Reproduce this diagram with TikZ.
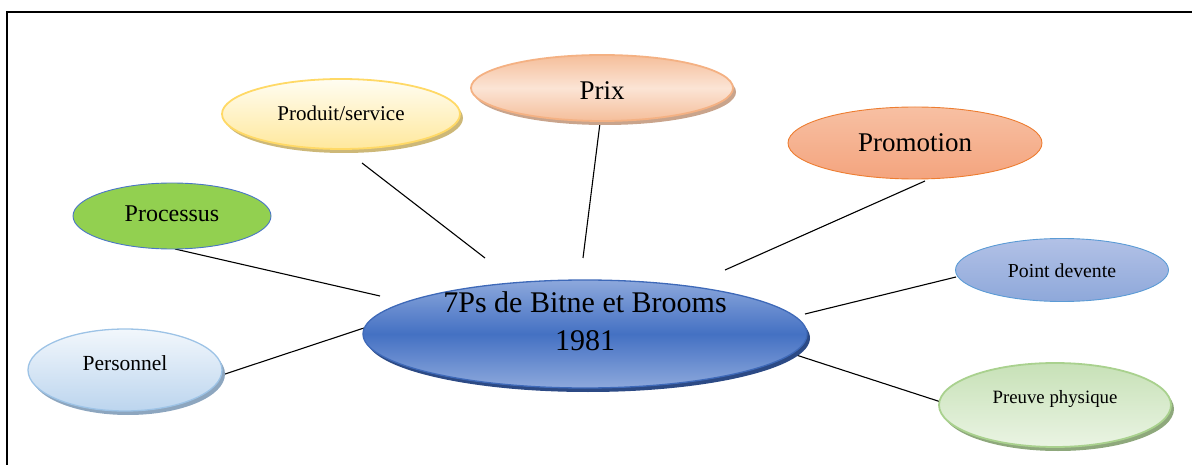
\documentclass[tikz,border=0pt]{standalone}
\usepackage{fontspec}
\setmainfont{Liberation Serif}
\newfontfamily\tnr{Liberation Serif}[Ligatures=TeX]
\usetikzlibrary{shapes.geometric,shadows}

\definecolor{hubEdge}{HTML}{3E69B8}
\definecolor{hubLight}{HTML}{8DA8DC}
\definecolor{hubDark}{HTML}{4471C3}
\definecolor{hubShadow}{HTML}{2C4A85}
\definecolor{persEdge}{HTML}{9DC3E6}
\definecolor{persTop}{HTML}{F2F7FC}
\definecolor{persBot}{HTML}{BCD5EE}
\definecolor{persShadow}{HTML}{8DA6BF}
\definecolor{procFill}{HTML}{92D050}
\definecolor{procEdge}{HTML}{4A76C6}
\definecolor{prodEdge}{HTML}{FFD966}
\definecolor{prodTop}{HTML}{FFFDF2}
\definecolor{prodBot}{HTML}{FFE89C}
\definecolor{prodShadow}{HTML}{CDB878}
\definecolor{prixEdge}{HTML}{F4B183}
\definecolor{prixOut}{HTML}{F5BE9A}
\definecolor{prixIn}{HTML}{FBE4D5}
\definecolor{prixShadow}{HTML}{C9A48C}
\definecolor{promEdge}{HTML}{ED7D31}
\definecolor{promTop}{HTML}{F7C0A3}
\definecolor{promBot}{HTML}{F4A47E}
\definecolor{pdvEdge}{HTML}{5B9BD5}
\definecolor{pdvTop}{HTML}{B2C1E6}
\definecolor{pdvBot}{HTML}{8EA8DA}
\definecolor{prevEdge}{HTML}{A9D18E}
\definecolor{prevTop}{HTML}{C7E1B7}
\definecolor{prevBot}{HTML}{EAF4E3}
\definecolor{prevShadow}{HTML}{8EA87C}

\begin{document}
\begin{tikzpicture}[x=1pt,y=-1pt,
  bubble/.style={ellipse, inner sep=0pt, line width=1.3pt},
  shade3/.style n args={3}{top color=#1, bottom color=#3, middle color=#2},
  dshadow/.style={drop shadow={shadow xshift=3pt, shadow yshift=-4pt, fill=#1, opacity=1}},
  lbl/.style={anchor=base, inner sep=0pt, text=black},
  link/.style={line width=1.1pt, black},
  frameline/.style={line width=2pt, black}]

\useasboundingbox (0,0) rectangle (1192,465);

% outer frame
\draw[frameline] (7,470) -- (7,12) -- (1200,12);

% connectors (drawn first, the bubbles sit on top)
\coordinate (procA) at (175,249);  \coordinate (hubA) at (380,296);
\coordinate (persA) at (222,375);  \coordinate (hubB) at (364,328);
\coordinate (prodA) at (362,163);  \coordinate (hubC) at (485,258);
\coordinate (prixA) at (600,123);  \coordinate (hubD) at (583,258);
\coordinate (promA) at (925,181);  \coordinate (hubE) at (725,270);
\coordinate (pdvA) at (956,277);   \coordinate (hubF) at (805,314);
\coordinate (prevA) at (941,402);  \coordinate (hubG) at (790,353);

\draw[link] (procA) -- (hubA);
\draw[link] (persA) -- (hubB);
\draw[link] (prodA) -- (hubC);
\draw[link] (prixA) -- (hubD);
\draw[link] (promA) -- (hubE);
\draw[link] (pdvA) -- (hubF);
\draw[link] (prevA) -- (hubG);

% bubbles
\node[bubble, minimum width=444pt, minimum height=108pt, draw=hubEdge,
      shade3={hubLight}{hubDark}{hubLight}, dshadow=hubShadow] (hub) at (585,334) {};
\node[bubble, minimum width=194pt, minimum height=82pt, draw=persEdge,
      top color=persTop, bottom color=persBot, dshadow=persShadow] (pers) at (125,370) {};
\node[bubble, minimum width=198pt, minimum height=66pt, draw=procEdge, line width=0.9pt,
      fill=procFill] (proc) at (172,216) {};
\node[bubble, minimum width=238pt, minimum height=70pt, draw=prodEdge, line width=1.8pt,
      top color=prodTop, bottom color=prodBot, dshadow=prodShadow] (prod) at (341,114) {};
\node[bubble, minimum width=262pt, minimum height=66pt, draw=prixEdge, line width=1.8pt,
      shade3={prixOut}{prixIn}{prixOut}, dshadow=prixShadow] (prix) at (602,88) {};
\node[bubble, minimum width=254pt, minimum height=72pt, draw=promEdge, line width=0.9pt,
      top color=promTop, bottom color=promBot] (prom) at (915,143) {};
\node[bubble, minimum width=213pt, minimum height=63pt, draw=pdvEdge, line width=0.9pt,
      top color=pdvTop, bottom color=pdvBot] (pdv) at (1062,270) {};
\node[bubble, minimum width=232pt, minimum height=84pt, draw=prevEdge, line width=1.8pt,
      top color=prevTop, bottom color=prevBot, dshadow=prevShadow] (prev) at (1055,405) {};

% labels
\node[text=black, inner sep=0pt, align=center, font=\tnr\fontsize{30}{38}\selectfont]
     (hub-t) at (585,321) {7Ps de Bitne et Brooms\\1981};
\node[lbl, font=\tnr\fontsize{21.5}{24}\selectfont] (pers-t) at (125,370) {Personnel};
\node[lbl, font=\tnr\fontsize{24}{28}\selectfont] (proc-t) at (172,222) {Processus};
\node[lbl, font=\tnr\fontsize{21}{24}\selectfont] (prod-t) at (341,121) {Produit/service};
\node[lbl, font=\tnr\fontsize{27}{30}\selectfont] (prix-t) at (602,100) {Prix};
\node[lbl, font=\tnr\fontsize{27}{30}\selectfont] (prom-t) at (915,152) {Promotion};
\node[lbl, font=\tnr\fontsize{19.8}{22}\selectfont] (pdv-t) at (1062,277) {Point devente};
\node[lbl, font=\tnr\fontsize{18.8}{22}\selectfont] (prev-t) at (1055,403) {Preuve physique};
\end{tikzpicture}
\end{document}
